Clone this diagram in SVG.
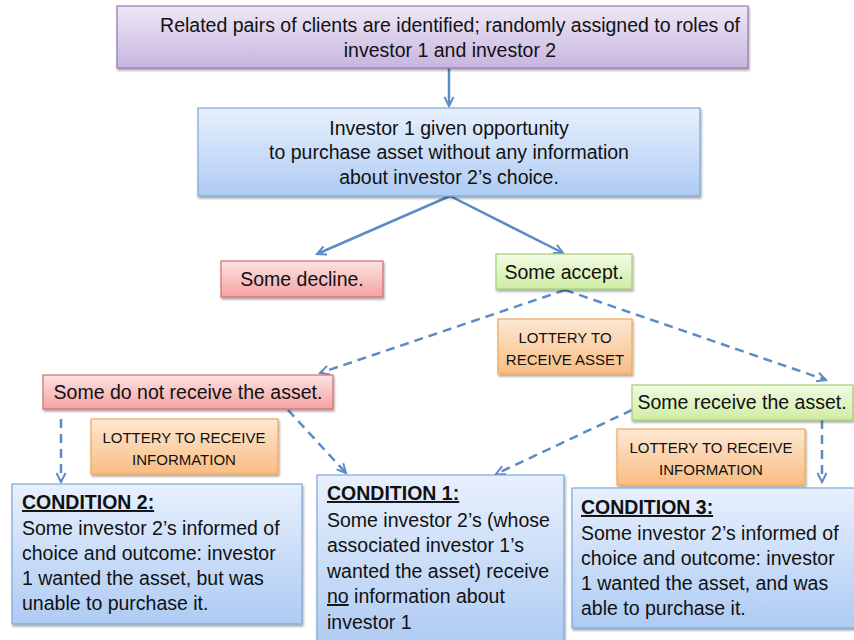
<svg xmlns="http://www.w3.org/2000/svg" width="854" height="640" viewBox="0 0 854 640">
<defs>
<linearGradient id="gPurple" x1="0" y1="0" x2="0" y2="1"><stop offset="0" stop-color="#eee8f6"/><stop offset="1" stop-color="#c8b5df"/></linearGradient>
<linearGradient id="gBlue" x1="0" y1="0" x2="0" y2="1"><stop offset="0" stop-color="#e8f0fd"/><stop offset="1" stop-color="#aecbf3"/></linearGradient>
<linearGradient id="gRed" x1="0" y1="0" x2="0" y2="1"><stop offset="0" stop-color="#fde3e3"/><stop offset="1" stop-color="#f3a3a2"/></linearGradient>
<linearGradient id="gGreen" x1="0" y1="0" x2="0" y2="1"><stop offset="0" stop-color="#f2fbe4"/><stop offset="1" stop-color="#cfeca4"/></linearGradient>
<linearGradient id="gOrange" x1="0" y1="0" x2="0" y2="1"><stop offset="0" stop-color="#fde8d3"/><stop offset="1" stop-color="#f9bd82"/></linearGradient>
<filter id="sh" x="-5%" y="-5%" width="110%" height="120%"><feDropShadow dx="1" dy="2" stdDeviation="1.2" flood-color="#000" flood-opacity="0.35"/></filter>
<marker id="ah" viewBox="0 0 12 12" refX="10" refY="6" markerWidth="12" markerHeight="12" markerUnits="userSpaceOnUse" orient="auto"><path d="M1,1.5 L10,6 L1,10.5" fill="none" stroke="#5b8cc6" stroke-width="2"/></marker>
</defs>
<style>
.t{font-family:"Liberation Sans",Arial,sans-serif;font-size:19.5px;fill:#111;}
.c{text-anchor:middle;}
.s{font-size:15px;}
.b{font-weight:bold;text-decoration:underline;}
.pu{fill:url(#gPurple);stroke:#8f78b0;stroke-width:1.2;filter:url(#sh);}
.bl{fill:url(#gBlue);stroke:#7ea7d9;stroke-width:1.2;filter:url(#sh);}
.rd{fill:url(#gRed);stroke:#d46e6d;stroke-width:1.2;filter:url(#sh);}
.gr{fill:url(#gGreen);stroke:#a6cf73;stroke-width:1.2;filter:url(#sh);}
.or{fill:url(#gOrange);stroke:#f2a65a;stroke-width:1.2;filter:url(#sh);}
.ln{stroke:#5b8cc6;stroke-width:2.5;fill:none;marker-end:url(#ah);}
.d{stroke-dasharray:9,6;}
</style>

<g id="connectors">
<line class="ln" x1="449" y1="68" x2="449" y2="106"/>
<line class="ln" x1="450" y1="196" x2="317" y2="254"/>
<line class="ln" x1="450" y1="196" x2="563" y2="253"/>
<line class="ln d" x1="565" y1="290" x2="320" y2="373"/>
<line class="ln d" x1="565" y1="290" x2="826" y2="380"/>
<line class="ln d" x1="61" y1="419" x2="61" y2="482"/>
<line class="ln d" x1="288" y1="410" x2="346" y2="473"/>
<line class="ln d" x1="632" y1="410" x2="496" y2="474"/>
<line class="ln d" x1="822" y1="420" x2="822" y2="482"/>
</g>

<g id="n_pairs">
<rect class="pu" x="117" y="6" width="631" height="62"/>
<text class="t c" x="450" y="32">Related pairs of clients are identified; randomly assigned to roles of</text>
<text class="t c" x="450" y="57">investor 1 and investor 2</text>
</g>

<g id="n_investor1">
<rect class="bl" x="198" y="108" width="502" height="88"/>
<text class="t c" x="449" y="135">Investor 1 given opportunity</text>
<text class="t c" x="449" y="159">to purchase asset without any information</text>
<text class="t c" x="449" y="184">about investor 2’s choice.</text>
</g>

<g id="n_decline">
<rect class="rd" x="221" y="261" width="162" height="36"/>
<text class="t c" x="302" y="286">Some decline.</text>
</g>

<g id="n_accept">
<rect class="gr" x="496" y="254" width="136" height="35"/>
<text class="t c" x="564" y="279">Some accept.</text>
</g>

<g id="n_lottery_asset">
<rect class="or" x="498" y="319" width="134" height="55"/>
<text class="t c s" x="565" y="343">LOTTERY TO</text>
<text class="t c s" x="565" y="365">RECEIVE ASSET</text>
</g>

<g id="n_not_receive">
<rect class="rd" x="43" y="375" width="290" height="34"/>
<text class="t c" x="188" y="399">Some do not receive the asset.</text>
</g>

<g id="n_receive">
<rect class="gr" x="632" y="385" width="221" height="35"/>
<text class="t c" x="742" y="409">Some receive the asset.</text>
</g>

<g id="n_lottery_info_left">
<rect class="or" x="91" y="419" width="187" height="55"/>
<text class="t c s" x="184" y="443">LOTTERY TO RECEIVE</text>
<text class="t c s" x="184" y="465">INFORMATION</text>
</g>

<g id="n_lottery_info_right">
<rect class="or" x="617" y="429" width="188" height="56"/>
<text class="t c s" x="711" y="453">LOTTERY TO RECEIVE</text>
<text class="t c s" x="711" y="475">INFORMATION</text>
</g>

<g id="n_cond2">
<rect class="bl" x="12" y="484" width="290" height="140"/>
<text class="t b" x="22" y="509">CONDITION 2:</text>
<text class="t" x="22" y="535">Some investor 2’s informed of</text>
<text class="t" x="22" y="560">choice and outcome: investor</text>
<text class="t" x="22" y="585">1 wanted the asset, but was</text>
<text class="t" x="22" y="610">unable to purchase it.</text>
</g>

<g id="n_cond1">
<rect class="bl" x="317" y="475" width="247" height="170"/>
<text class="t b" x="327" y="500">CONDITION 1:</text>
<text class="t" x="327" y="527">Some investor 2’s (whose</text>
<text class="t" x="327" y="552">associated investor 1’s</text>
<text class="t" x="327" y="578">wanted the asset) receive</text>
<text class="t" x="327" y="603"><tspan text-decoration="underline">no</tspan> information about</text>
<text class="t" x="327" y="629">investor 1</text>
</g>

<g id="n_cond3">
<rect class="bl" x="572" y="488" width="290" height="140"/>
<text class="t b" x="581" y="514">CONDITION 3:</text>
<text class="t" x="581" y="540">Some investor 2’s informed of</text>
<text class="t" x="581" y="565">choice and outcome: investor</text>
<text class="t" x="581" y="590">1 wanted the asset, and was</text>
<text class="t" x="581" y="615">able to purchase it.</text>
</g>
</svg>
